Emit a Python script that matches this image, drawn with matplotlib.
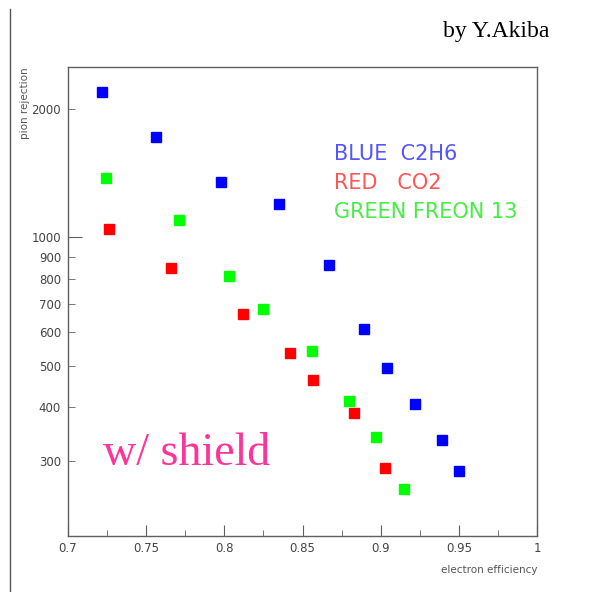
import matplotlib
matplotlib.use("Agg")
import matplotlib.pyplot as plt
from matplotlib.ticker import FixedLocator, FixedFormatter

# electron efficiency vs pion rejection, w/ shield
blue_x = [0.722, 0.756, 0.798, 0.835, 0.867, 0.889, 0.904, 0.922, 0.939, 0.950]
blue_y = [2190, 1720, 1350, 1195, 860, 610, 495, 408, 336, 284]

red_x = [0.726, 0.766, 0.812, 0.842, 0.857, 0.883, 0.903]
red_y = [1045, 847, 661, 536, 464, 389, 289]

green_x = [0.724, 0.771, 0.803, 0.825, 0.856, 0.880, 0.897, 0.915]
green_y = [1380, 1096, 811, 679, 542, 414, 341, 258]

xticks = [0.7, 0.75, 0.8, 0.85, 0.9, 0.95, 1.0]
xtick_labels = ["0.7", "0.75", "0.8", "0.85", "0.9", "0.95", "1"]
yminor = [300, 400, 500, 600, 700, 800, 900, 2000]
yminor_labels = ["300", "400", "500", "600", "700", "800", "900", "2000"]

gray = "#606060"

fig = plt.figure(figsize=(5.89, 5.92), dpi=100)
ax = fig.add_axes([0.1155, 0.0946, 0.7963, 0.7917])

ms = 7.2
ax.plot(blue_x, blue_y, "s", color="#0000ff", ms=ms, mec="#0000ff")
ax.plot(red_x, red_y, "s", color="#ff0000", ms=ms, mec="#ff0000")
ax.plot(green_x, green_y, "s", color="#00ff00", ms=ms, mec="#00ff00")

ax.set_yscale("log")
ax.set_xlim(0.7, 1.0)
ax.set_ylim(200, 2500)

for s in ax.spines.values():
    s.set_color(gray)
    s.set_linewidth(1.0)

ax.set_xticks(xticks)
ax.set_xticklabels(xtick_labels)
ax.xaxis.set_minor_locator(FixedLocator([0.725, 0.775, 0.825, 0.875, 0.925, 0.975]))
ax.tick_params(axis="x", which="major", direction="in", length=8, color=gray,
               labelsize=8.5, labelcolor="#444444", pad=4)
ax.tick_params(axis="x", which="minor", direction="in", length=4, color=gray)

ax.yaxis.set_major_locator(FixedLocator([1000]))
ax.yaxis.set_major_formatter(FixedFormatter(["1000"]))
ax.yaxis.set_minor_locator(FixedLocator(yminor))
ax.yaxis.set_minor_formatter(FixedFormatter(yminor_labels))
ax.tick_params(axis="y", which="major", direction="in", length=10, color=gray,
               labelsize=8.5, labelcolor="#444444", pad=5)
ax.tick_params(axis="y", which="minor", direction="in", length=5, color=gray,
               labelsize=8.5, labelcolor="#444444", pad=5)

fig.text(0.043, 0.886, "pion rejection", rotation=90, ha="center", va="top",
         fontsize=7.5, color="#555555")
fig.text(0.912, 0.038, "electron efficiency", ha="right", va="center",
         fontsize=7.5, color="#555555")

ax.text(0.568, 0.814, "BLUE  C2H6", transform=ax.transAxes, fontsize=15,
        color="#5555ff", va="center")
ax.text(0.568, 0.754, "RED   CO2", transform=ax.transAxes, fontsize=15,
        color="#ff5555", va="center")
ax.text(0.568, 0.691, "GREEN FREON 13", transform=ax.transAxes, fontsize=15,
        color="#44ee44", va="center")

ax.text(0.074, 0.151, "w/ shield", transform=ax.transAxes, fontsize=33,
        family="Liberation Serif", color="#ff3399", va="baseline")

fig.text(0.933, 0.947, "by Y.Akiba", ha="right", va="center", fontsize=17,
         family="Liberation Serif", color="black")

fig.add_artist(plt.Line2D([0.017, 0.017], [0.0, 0.985], transform=fig.transFigure,
                          color="#555555", lw=1.0))

fig.savefig("out.png", dpi=100, facecolor="white")
